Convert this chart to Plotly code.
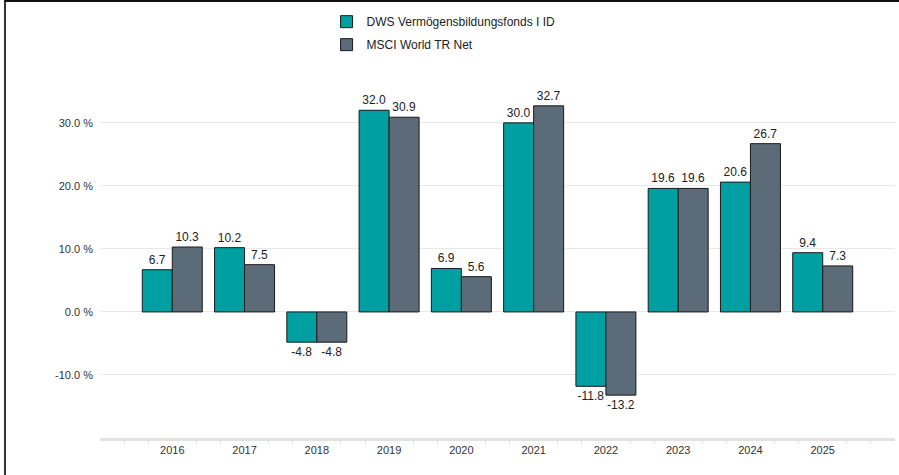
import plotly.graph_objects as go

years = ["2016", "2017", "2018", "2019", "2020", "2021", "2022", "2023", "2024", "2025"]
fund_name = "DWS Vermögensbildungsfonds I ID"
bench_name = "MSCI World TR Net"
fund_values = [6.7, 10.2, -4.8, 32.0, 6.9, 30.0, -11.8, 19.6, 20.6, 9.4]
bench_values = [10.3, 7.5, -4.8, 30.9, 5.6, 32.7, -13.2, 19.6, 26.7, 7.3]
y_ticks = [-10, 0, 10, 20, 30]
y_ticklabels = [f"{v:.1f} %" for v in y_ticks]

FONT = "Liberation Sans, Arial, Helvetica, sans-serif"

fig = go.Figure()
fig.add_trace(go.Bar(
    x=years, y=fund_values, name=fund_name, legendgroup="fund",
    marker=dict(color="#00A0A2", line=dict(color="#1a1a1a", width=1)),
    text=[f"{v:.1f}" for v in fund_values], textposition="outside",
    textfont=dict(size=12, color="#222222", family=FONT), cliponaxis=False,
    constraintext="none",
))
fig.add_trace(go.Bar(
    x=years, y=bench_values, name=bench_name, legendgroup="bench",
    marker=dict(color="#5B6B77", line=dict(color="#1a1a1a", width=1)),
    text=[f"{v:.1f}" for v in bench_values], textposition="outside",
    textfont=dict(size=12, color="#222222", family=FONT), cliponaxis=False,
    constraintext="none",
))

# invisible helper trace for the minor-tick overlay axis
minor_ticks = [k / 3 for k in range(-3, 31) if k % 3 != 0]
fig.add_trace(go.Scatter(x=[-1, 10], y=[0, 0], xaxis="x2", mode="markers",
                         marker=dict(opacity=0), showlegend=False, hoverinfo="skip"))

fig.update_layout(
    width=899, height=475,
    margin=dict(l=100, r=4, t=5, b=37, autoexpand=False),
    paper_bgcolor="white", plot_bgcolor="white",
    font=dict(family=FONT, size=11, color="#333333"),
    barmode="group", bargap=0.17, bargroupgap=0,
    legend=dict(
        orientation="v", x=0.285, y=0.995, xanchor="left", yanchor="top",
        font=dict(size=12, color="#222222", family=FONT),
        bgcolor="rgba(0,0,0,0)", tracegroupgap=4,
    ),
    xaxis=dict(
        type="category", range=[-1, 10], showgrid=False,
        showline=True, linecolor="#e2e2e2", linewidth=3,
        ticks="", tickfont=dict(size=11, color="#333333"), tickangle=0,
    ),
    xaxis2=dict(
        overlaying="x", anchor="y", range=[-1, 10], showgrid=False,
        showline=False, tickvals=minor_ticks, showticklabels=False,
        ticks="outside", ticklen=5, tickwidth=1, tickcolor="#dddddd", zeroline=False,
    ),
    yaxis=dict(
        range=[-20, 48.7], tickvals=y_ticks, ticktext=y_ticklabels,
        showgrid=True, gridcolor="#e8e8e8", gridwidth=1, zeroline=False,
        tickfont=dict(size=11, color="#333333"), ticks="", ticklabelstandoff=6,
    ),
    shapes=[
        dict(type="line", xref="paper", yref="paper", x0=-0.1195, x1=-0.1195,
             y0=-0.1, y1=1.02, line=dict(color="#333333", width=2)),
        dict(type="line", xref="paper", yref="paper", x0=-0.1195, x1=1.01,
             y0=1.009, y1=1.009, line=dict(color="#111111", width=2)),
    ],
)

fig.write_html("out.html", config={"displayModeBar": False},
               post_script="document.body.style.margin='0';document.body.style.padding='0';")
